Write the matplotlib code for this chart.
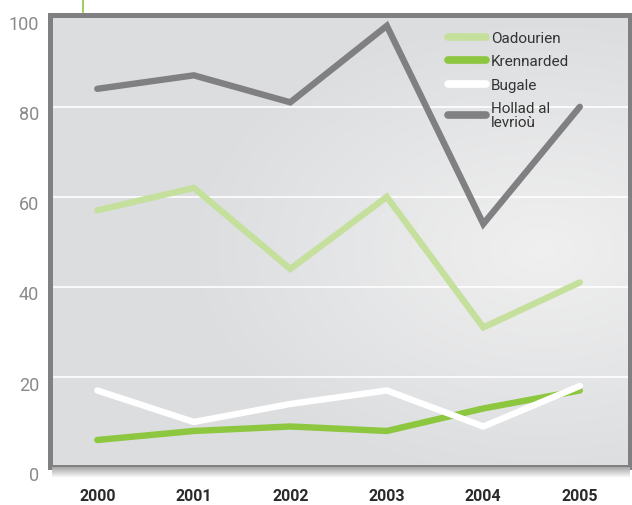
import numpy as np
import matplotlib
matplotlib.use("Agg")
import matplotlib.pyplot as plt
import matplotlib.transforms as mtransforms
from matplotlib.lines import Line2D

plt.rcParams['font.family'] = ['Roboto', 'DejaVu Sans']

# data
years = ['2000', '2001', '2002', '2003', '2004', '2005']
oadourien = [57, 62, 44, 60, 31, 41]
krennarded = [6, 8, 9, 8, 13, 17]
bugale = [17, 10, 14, 17, 9, 18]
hollad = [84, 87, 81, 98, 54, 80]
labels = ['Oadourien', 'Krennarded', 'Bugale', 'Hollad al\nlevrioù']
colors = ['#c5e09c', '#8dc63f', '#ffffff', '#808083']
yticks = [0, 20, 40, 60, 80, 100]

fig = plt.figure(figsize=(6.32, 5.06), dpi=100)
ax = fig.add_axes([50 / 632, 38 / 506, 580 / 632, 452 / 506])

# shadow under the frame
sh = fig.add_axes([52 / 632, 27 / 506, 578 / 632, 11 / 506])
grad = np.linspace(0.65, 1.0, 50).reshape(-1, 1)
sh.imshow(np.repeat(grad, 2, axis=1), cmap='gray', vmin=0, vmax=1,
          aspect='auto', extent=(0, 1, 0, 1), origin='upper')
sh.axis('off')

# radial background gradient
xx, yy = np.meshgrid(np.linspace(0, 1, 300), np.linspace(0, 1, 300))
r = np.sqrt(((xx - 0.85) * 1.0) ** 2 + ((yy - 0.52) * 1.2) ** 2)
bg = np.clip(r / 0.6, 0, 1)
c0 = np.array([0.94, 0.94, 0.94])
c1 = np.array([0.865, 0.87, 0.878])
img = c0 + (c1 - c0) * bg[..., None]
ax.imshow(img, extent=(-0.49, 5.52, 0, 100.4), aspect='auto', origin='upper', zorder=0)

x = np.arange(len(years))
series = [oadourien, krennarded, bugale, hollad]
for vals, lab, col in zip(series, labels, colors):
    ax.plot(x, vals, color=col, lw=4.6, solid_capstyle='round',
            solid_joinstyle='miter', label=lab, zorder=3)

ax.set_xlim(-0.49, 5.52)
ax.set_ylim(0, 100.4)
ax.set_yticks(yticks)
ax.set_xticks(x)
ax.set_xticklabels(years)
ax.grid(axis='y', color='white', lw=1.2, zorder=1)
ax.set_axisbelow(True)

for s in ax.spines.values():
    s.set_color('#808083')
    s.set_linewidth(3.6)
    s.set_zorder(5)

ax.tick_params(axis='both', length=0)
ax.tick_params(axis='y', pad=8, labelsize=13, labelcolor='#8a8a8c')
ax.tick_params(axis='x', pad=15, labelsize=11.5, labelcolor='#2a2a2a')
for t in ax.get_xticklabels():
    t.set_fontweight('bold')
off = mtransforms.ScaledTranslation(0, -4 / 72, fig.dpi_scale_trans)
for t in ax.get_yticklabels():
    t.set_transform(t.get_transform() + off)

leg = ax.legend(loc='upper left', bbox_to_anchor=(0.663, 0.995), frameon=False,
                fontsize=11, handlelength=2.5, handletextpad=0.3,
                labelspacing=0.62, labelcolor='#333333')
for h in leg.get_lines():
    h.set_linewidth(5.5)
for t in leg.get_texts():
    t.set_linespacing(0.95)

# little green marker line above the frame
fig.add_artist(Line2D([82.5 / 632, 82.5 / 632], [1.0, 493 / 506],
                      color='#8dc63f', lw=1.2))

fig.savefig('out.png', dpi=100)
